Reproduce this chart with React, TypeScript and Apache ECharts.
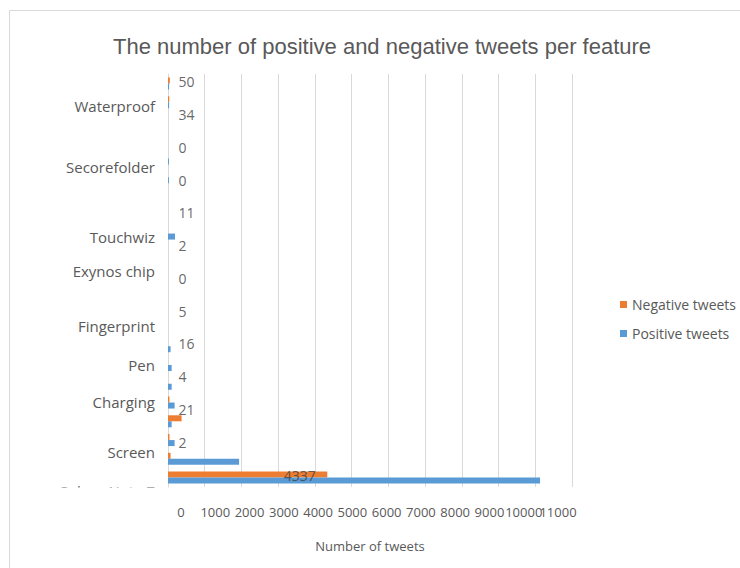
import React, { useEffect, useRef } from 'react';
import * as echarts from 'echarts';

// ---- data (bottom slot first) ----
const featureNames = ['Galaxy Note 7', 'Screen', 'Charging', 'Pen', 'Fingerprint', 'Exynos chip', 'Touchwiz', 'Secorefolder', 'Waterproof'];
const negativeTweets = [4337, 70, 40, 370, 40, 0, 0, 0, 0, 0, 0, 0, 0, 0, 0, 0, 0, 0, 0, 0, 34, 50];
const positiveTweets = [10130, 1935, 180, 100, 180, 100, 100, 70, 0, 0, 0, 0, 0, 190, 0, 0, 25, 25, 0, 0, 30, 30];
const dataLabelValues = [4337, 2, 21, 4, 16, 5, 0, 2, 11, 0, 0, 34, 50];
const xTickLabels = ['0', '1000', '2000', '3000', '4000', '5000', '6000', '7000', '8000', '9000', '10000', '11000'];
const xMin = 0;
const xMax = 11000;
const xStep = 1000;

// ---- layout (not data) ----
const featureSlot = [0, 1, 4, 6, 8, 11, 13, 17, 20];
const featureShift = [13, -7, -1, 0, -1, 0, 3, 9, 4];

const FONT = 'Open Sans';
const TEXT = '#595959';
const GRID_LINE = '#d9d9d9';

export default function App() {
  const ref = useRef<HTMLDivElement>(null);
  useEffect(() => {
    if (!ref.current) return;
    const chart = echarts.init(ref.current, null, { renderer: 'svg' });
    const slotKeys = negativeTweets.map((_, i) => 'slot' + i);
    const labelKeys = dataLabelValues.map((_, i) => 'lab' + i);
    const rich: Record<string, any> = {};
    featureSlot.forEach((s, f) => {
      const sh = featureShift[f];
      rich['s' + s] = {
        fontFamily: FONT,
        fontSize: 15,
        color: TEXT,
        padding: sh >= 0 ? [2 * sh, 0, 0, 0] : [0, 0, -2 * sh, 0],
      };
    });
    chart.setOption({
      animation: false,
      title: {
        text: 'The number of positive and negative tweets per feature',
        left: 108,
        top: 30,
        textStyle: { fontFamily: 'Liberation Sans', fontSize: 22, fontWeight: 'normal', color: TEXT },
      },
      legend: {
        orient: 'vertical',
        left: 615,
        top: 292,
        icon: 'rect',
        itemWidth: 7,
        itemHeight: 7,
        itemGap: 14,
        data: ['Negative tweets', 'Positive tweets'],
        textStyle: { fontFamily: FONT, fontSize: 14, color: TEXT, lineHeight: 15 },
      },
      grid: [
        { left: 168, right: 168, top: 74, bottom: 81 },
        { left: 168, right: 168, top: 81.7, bottom: 93 },
        { left: 181, right: 182, top: 74, bottom: 81 },
      ],
      xAxis: [
        {
          gridIndex: 0,
          type: 'value',
          min: xMin,
          max: xMax,
          interval: xStep,
          axisLine: { show: false },
          axisTick: { show: false },
          axisLabel: { show: false },
          splitLine: { show: true, lineStyle: { color: GRID_LINE, width: 1 } },
          name: 'Number of tweets',
          nameLocation: 'middle',
          nameGap: 52,
          nameTextStyle: { fontFamily: FONT, fontSize: 13, color: TEXT },
        },
        {
          gridIndex: 2,
          type: 'category',
          data: xTickLabels,
          boundaryGap: false,
          axisLine: { show: false },
          axisTick: { show: false },
          splitLine: { show: false },
          axisLabel: {
            interval: 0,
            margin: 18,
            fontFamily: FONT,
            fontSize: 13,
            color: TEXT,
          },
        },
        { gridIndex: 1, type: 'value', min: xMin, max: xMax, show: false },
      ],
      yAxis: [
        {
          gridIndex: 0,
          type: 'category',
          data: slotKeys,
          axisLine: { show: true, lineStyle: { color: GRID_LINE } },
          axisTick: { show: false },
          splitLine: { show: false },
          axisLabel: {
            interval: 0,
            margin: 13,
            fontFamily: FONT,
            fontSize: 15,
            color: TEXT,
            formatter: (_v: string, idx: number) => {
              const f = featureSlot.indexOf(idx);
              if (f < 0) return '';
              return '{s' + idx + '|' + featureNames[f] + '}';
            },
            rich,
          },
        },
        { gridIndex: 1, type: 'category', data: labelKeys, boundaryGap: false, show: false },
        { gridIndex: 2, type: 'value', show: false },
      ],
      series: [
        {
          name: 'Negative tweets',
          type: 'bar',
          xAxisIndex: 0,
          yAxisIndex: 0,
          data: negativeTweets,
          itemStyle: { color: '#ED7D31' },
          barGap: '0%',
          barCategoryGap: '36%',
        },
        {
          name: 'Positive tweets',
          type: 'bar',
          xAxisIndex: 0,
          yAxisIndex: 0,
          data: positiveTweets,
          itemStyle: { color: '#5B9BD5' },
          barGap: '0%',
          barCategoryGap: '36%',
        },
        {
          name: 'labels',
          type: 'scatter',
          xAxisIndex: 2,
          yAxisIndex: 1,
          silent: true,
          symbolSize: 1,
          itemStyle: { color: 'rgba(0,0,0,0)' },
          data: dataLabelValues.map((v, i) => ({
            value: [i === 0 ? v : 0, i],
            label: i === 0 ? { position: 'left', distance: 11 } : undefined,
          })),
          label: {
            show: true,
            position: 'right',
            distance: 10,
            fontFamily: FONT,
            fontSize: 14,
            color: '#404040',
            formatter: (p: any) => String(dataLabelValues[p.dataIndex]),
          },
        },
      ],
      graphic: [
        {
          type: 'rect',
          z: 100,
          shape: { x: 20, y: 487.5, width: 145, height: 16 },
          style: { fill: '#ffffff' },
          silent: true,
        },
        {
          type: 'rect',
          z: 101,
          shape: { x: 9.5, y: 10.5, width: 800, height: 700 },
          style: { fill: 'none', stroke: GRID_LINE, lineWidth: 1 },
          silent: true,
        },
      ],
    });
    return () => chart.dispose();
  }, []);
  return <div ref={ref} style={{ position: 'absolute', left: 0, top: 0, width: 740, height: 568 }} />;
}
